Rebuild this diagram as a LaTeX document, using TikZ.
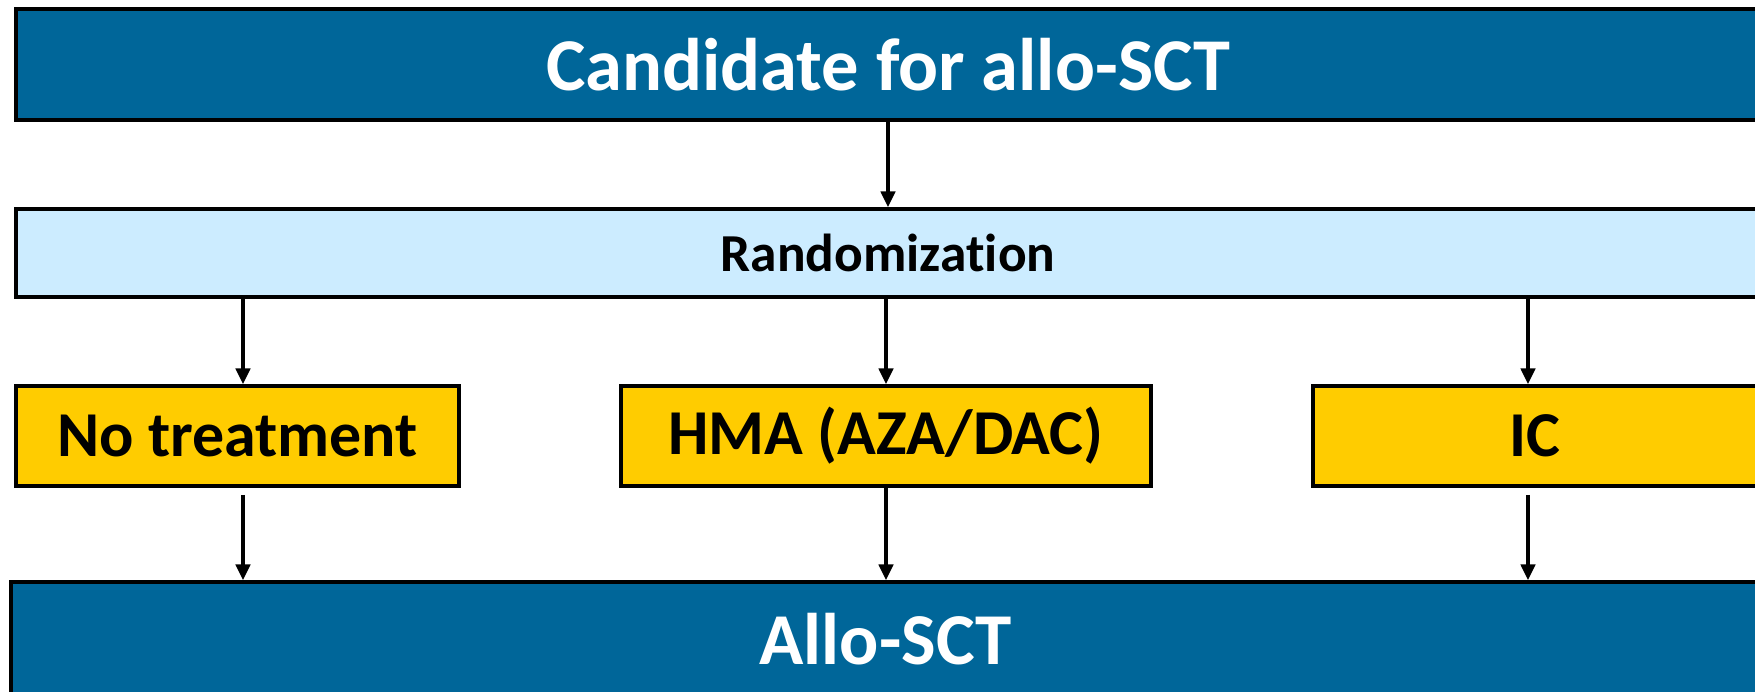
\documentclass[tikz,border=0pt]{standalone}
\usepackage{fontspec}
\setmainfont{Carlito}[Ligatures=NoCommon]
\usetikzlibrary{shapes,arrows.meta}
\definecolor{sctblue}{RGB}{0,102,153}
\definecolor{randblue}{RGB}{204,236,255}
\definecolor{armgold}{RGB}{255,204,0}
\tikzstyle{banner} = [draw, fill=sctblue, rectangle, text=white,
    font=\bfseries\fontsize{21.2}{26}\selectfont, inner sep=0pt,
    minimum height=11.1mm, line width=1pt]
\tikzstyle{bar} = [draw, fill=randblue, rectangle,
    font=\bfseries\fontsize{15.2}{18}\selectfont, inner sep=0pt,
    minimum height=8.8mm, minimum width=174.4mm, line width=1pt]
\tikzstyle{arm} = [draw, fill=armgold, rectangle,
    font=\bfseries\fontsize{18.2}{22}\selectfont, inner sep=0pt,
    minimum height=10mm, line width=1pt]
\tikzstyle{link} = [-{Triangle[length=4.5pt,width=4pt]}, line width=1.1pt]

\begin{document}
\begin{tikzpicture}[x=0.1mm, y=-0.1mm]
\useasboundingbox (0,0) rectangle (1755,691);

\node[banner, name=cand, minimum width=174.4mm] at (888,64.5) {Candidate for allo-SCT};
\node[bar, name=rand] at (888,253) {Randomization};

\node[arm, name=none, minimum width=44.3mm] at (237.5,436) {No treatment};
\node[arm, name=hma, minimum width=53mm] at (886,436) {HMA (AZA/DAC)};
\node[arm, name=ic, minimum width=44.4mm] at (1535,436) {IC};

\node[banner, name=sct, minimum width=174.9mm, minimum height=11.4mm,
      font=\bfseries\fontsize{20.8}{25}\selectfont] at (885.5,639) {Allo-SCT};

\draw[link] (cand.south) -- (rand.north);

\draw[link] ([xshift=0.55mm]rand.south -| none.north) -- ([xshift=0.55mm]none.north);
\draw[link] (rand.south -| hma.north) -- (hma.north);
\draw[link] ([xshift=-0.7mm]rand.south -| ic.north) -- ([xshift=-0.7mm]ic.north);

\draw[link, shorten <=0.7mm] ([xshift=0.55mm]none.south) -- ([xshift=0.55mm]sct.north -| none.south);
\draw[link] (hma.south) -- (sct.north -| hma.south);
\draw[link, shorten <=0.7mm] ([xshift=-0.7mm]ic.south) -- ([xshift=-0.7mm]sct.north -| ic.south);

\end{tikzpicture}
\end{document}
